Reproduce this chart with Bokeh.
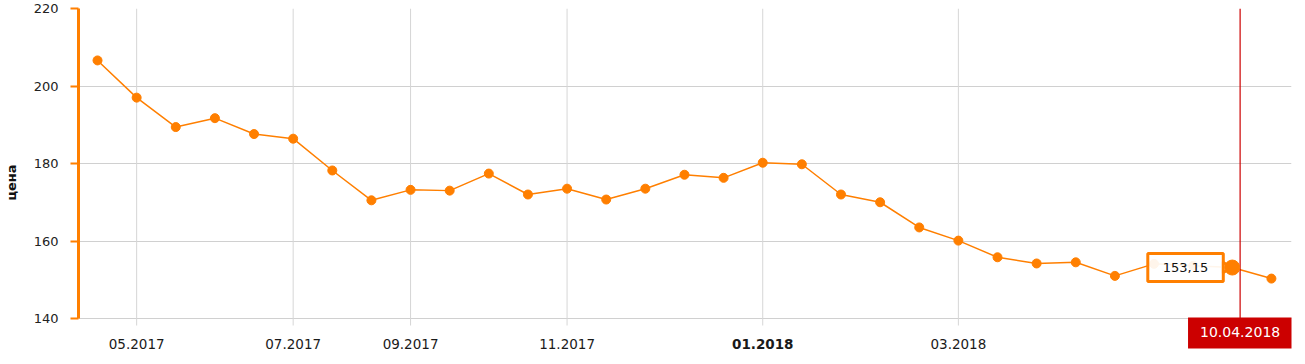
import math
from bokeh.plotting import figure
from bokeh.models import FixedTicker, Range1d, Label, ColumnDataSource
from bokeh.core.properties import value
from bokeh.embed import file_html
from bokeh.resources import INLINE

# ---- data ----
prices = [206.6, 197.0, 189.4, 191.7, 187.6, 186.4, 178.2, 170.5, 173.2, 173.0,
          177.4, 172.0, 173.5, 170.7, 173.5, 177.1, 176.3, 180.2, 179.8, 172.0,
          170.0, 163.5, 160.1, 155.8, 154.2, 154.5, 151.0, 154.1, 153.6, 153.15,
          150.3]
points = list(range(len(prices)))
tick_idx = [1, 5, 8, 12, 17, 22]
tick_labels = ["05.2017", "07.2017", "09.2017", "11.2017", "01.2018", "03.2018"]
bold_tick = "01.2018"
y_ticks = [140, 160, 180, 200, 220]
hl_idx = 29
hl_date = "10.04.2018"
y_title = "цена"

ORANGE = "#ff7f00"
RED = "#cc0000"
FONT = "DejaVu Sans"

# ---- layout constants ----
W, H = 1297, 356
TOP, LEFT, RIGHT = 8, 78, 6
DATA_H = 310                       # pixel height of the 140..220 band
STEP = 39.13                       # pixels between two points
y_min, y_max = min(y_ticks), max(y_ticks)
ppu = DATA_H / (y_max - y_min)     # pixels per unit
frame_h = H - TOP
y_lo = y_max - frame_h / ppu
x_lo = -0.486
x_hi = x_lo + (W - LEFT - RIGHT) / STEP

p = figure(width=W, height=H, output_backend="svg", toolbar_location=None,
           x_range=Range1d(x_lo, x_hi), y_range=Range1d(y_lo, y_max),
           min_border_left=LEFT, min_border_right=RIGHT, min_border_top=TOP,
           min_border_bottom=0)
p.outline_line_color = None
p.background_fill_color = "white"
p.border_fill_color = "white"
p.xaxis.visible = False
p.xgrid.visible = False

# y axis
p.yaxis.ticker = FixedTicker(ticks=y_ticks)
p.yaxis.bounds = (y_min, y_max)
p.yaxis.axis_line_color = ORANGE
p.yaxis.axis_line_width = 3
p.yaxis.major_tick_line_color = ORANGE
p.yaxis.major_tick_line_width = 2
p.yaxis.major_tick_in = 0
p.yaxis.major_tick_out = 8
p.yaxis.minor_tick_line_color = None
p.yaxis.major_label_standoff = 12
p.yaxis.major_label_text_font = FONT
p.yaxis.major_label_text_font_size = "13px"
p.yaxis.major_label_text_color = "#222222"
p.yaxis.axis_label = y_title
p.yaxis.axis_label_text_font = FONT
p.yaxis.axis_label_text_font_size = "13px"
p.yaxis.axis_label_text_font_style = "bold"
p.yaxis.axis_label_text_color = "#111111"
p.yaxis.axis_label_standoff = 12

p.ygrid.ticker = FixedTicker(ticks=y_ticks)
p.ygrid.grid_line_color = "#d0d0d0"

# vertical grid lines + tick marks (drawn as segments so they stop at 140)
p.segment(x0=tick_idx, x1=tick_idx, y0=[y_min - 7 / ppu] * len(tick_idx),
          y1=[y_max] * len(tick_idx), line_color="#d6d6d6", line_width=1)

# x tick labels (one bold)
lab_src = ColumnDataSource(dict(
    x=tick_idx, y=[y_min - 25 / ppu] * len(tick_idx), text=tick_labels,
    style=["bold" if t == bold_tick else "normal" for t in tick_labels]))
p.text(x="x", y="y", text="text", source=lab_src, text_align="center",
       text_baseline="middle", text_font=value(FONT), text_font_size="13.5px",
       text_font_style="style", text_color="#1a1a1a")

# series
p.line(points, prices, line_color=ORANGE, line_width=1.5)
p.scatter(points, prices, size=9, color=ORANGE)

# crosshair (stops at the bottom of the value band)
cx = hl_idx + 0.2
p.segment(x0=[cx], x1=[cx], y0=[y_min], y1=[y_max], line_color=RED, line_width=1.2)

# tooltip pointer + highlighted point
p.scatter([hl_idx - 0.17], [prices[hl_idx]], marker="triangle", angle=-math.pi / 2,
          size=11, fill_color="white", line_color=ORANGE, line_width=3)
p.scatter([hl_idx], [prices[hl_idx]], size=15, color=ORANGE)

p.add_layout(Label(x=hl_idx, y=prices[hl_idx], text=f"{prices[hl_idx]:.2f}".replace(".", ","),
                   text_align="right", text_baseline="middle", x_offset=-9,
                   text_font=FONT, text_font_size="13px", text_color="#111111",
                   background_fill_color="white", background_fill_alpha=0.92,
                   border_line_color=ORANGE, border_line_width=3,
                   padding=dict(left=15, right=15, top=9, bottom=10)))

# date box
p.add_layout(Label(x=cx, y=y_min, text=hl_date, text_align="center",
                   text_baseline="top", y_offset=1, text_font=FONT,
                   text_font_size="14px", text_color="white",
                   background_fill_color=RED,
                   padding=dict(left=12, right=12, top=9, bottom=12)))

open("out.html", "w").write(file_html(p, INLINE))
